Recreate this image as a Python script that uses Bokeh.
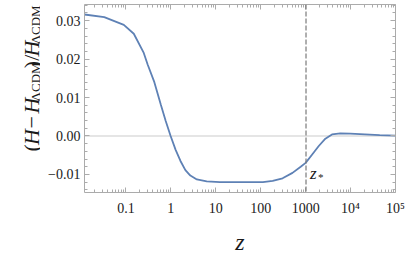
import math
from bokeh.plotting import figure
from bokeh.layouts import row
from bokeh.models import FixedTicker, LogAxis, LinearAxis, Span, Label, Range1d
from bokeh.core.properties import value
from bokeh.embed import file_html
from bokeh.resources import INLINE

# ---- data ----
Z = [0.012, 0.033, 0.09, 0.15, 0.25, 0.305, 0.43, 0.6, 0.77, 0.99, 1.28, 1.64,
     2.11, 2.72, 3.8, 6.3, 12.4, 30, 112, 185, 307, 510, 777, 1000, 1400, 1960,
     2750, 3860, 5900, 9800, 20800, 44500, 100000]
DELTA = [0.0316, 0.0309, 0.0289, 0.0266, 0.0216, 0.0186, 0.0140, 0.0081, 0.0039,
         0.0, -0.0036, -0.0065, -0.0089, -0.0103, -0.0113, -0.0118, -0.0120,
         -0.0120, -0.0120, -0.0117, -0.0110, -0.0096, -0.0080, -0.0070, -0.0048,
         -0.0026, -0.0007, 0.0004, 0.0007, 0.0006, 0.0004, 0.0002, 0.0001]
Z_STAR = 1020

X_TICKS = [0.1, 1, 10, 100, 1000, 10000, 100000]
X_TICK_LABELS = ["0.1", "1", "10", "100", "1000", "10\u2074", "10\u2075"]
Y_TICKS = [-0.01, 0.0, 0.01, 0.02, 0.03]
Y_TICK_LABELS = ["\u22120.01", "0.00", "0.01", "0.02", "0.03"]

# y-axis title, split into pieces so that italics / subscripts can be shown
YT_TEXT = ["(", "H", "\u2212", "H", "\u039bCDM", ")/", "H", "\u039bCDM"]

FONT = "Liberation Serif"
FRAME = "#ababab"
TXT = "#1a1a1a"
BLUE = "#5e81b5"

X_MIN, X_MAX = 0.012, 1e5
Y_MIN, Y_MAX = -0.0147, 0.0342
H = 257
LW = 40            # width of the strip holding the y title
MW = 405 - LW      # main figure width
FL, FR, FT, FB = 44, 355, 4, 195   # main frame edges (main canvas pixels)

x_minor = [m * 10.0 ** k for k in range(-2, 5) for m in range(2, 10)]
y_minor = [round(-0.014 + 0.002 * i, 3) for i in range(25)]

p = figure(width=MW, height=H, x_axis_type="log",
           x_range=Range1d(X_MIN, X_MAX), y_range=Range1d(Y_MIN, Y_MAX),
           output_backend="svg", toolbar_location=None,
           min_border_left=FL, min_border_right=MW - FR, min_border_top=FT,
           min_border_bottom=H - FB)
p.outline_line_color = None
p.xgrid.visible = False
p.ygrid.visible = False
p.background_fill_color = "white"
p.border_fill_color = "white"


def style_axis(ax, show_labels):
    ax.axis_line_color = FRAME
    ax.axis_line_width = 1
    ax.major_tick_line_color = FRAME
    ax.minor_tick_line_color = FRAME
    ax.major_tick_in = 5
    ax.major_tick_out = 0
    ax.minor_tick_in = 3
    ax.minor_tick_out = 0
    ax.major_label_text_font = FONT
    ax.major_label_text_color = TXT
    if show_labels:
        ax.major_label_text_font_size = "14px"
    else:
        ax.major_label_text_font_size = "1px"
        ax.major_label_text_alpha = 0
        ax.major_label_standoff = 0


xa = p.xaxis[0]
xa.ticker = FixedTicker(ticks=X_TICKS, minor_ticks=x_minor)
xa.major_label_overrides = {float(t): l for t, l in zip(X_TICKS, X_TICK_LABELS)}
style_axis(xa, True)
xa.major_label_standoff = 8
xa.axis_label = "z"
xa.axis_label_text_font = FONT
xa.axis_label_text_font_style = "italic"
xa.axis_label_text_font_size = "24px"
xa.axis_label_text_color = TXT
xa.axis_label_standoff = 10

ya = p.yaxis[0]
ya.ticker = FixedTicker(ticks=Y_TICKS, minor_ticks=y_minor)
ya.major_label_overrides = {float(t): l for t, l in zip(Y_TICKS, Y_TICK_LABELS)}
style_axis(ya, True)
ya.major_label_standoff = 4

top = LogAxis(ticker=FixedTicker(ticks=X_TICKS, minor_ticks=x_minor))
style_axis(top, False)
p.add_layout(top, "above")
right = LinearAxis(ticker=FixedTicker(ticks=Y_TICKS, minor_ticks=y_minor))
style_axis(right, False)
p.add_layout(right, "right")

p.add_layout(Span(location=0, dimension="width", line_color="#dcdcdc",
                  line_width=1.5, level="underlay"))
p.add_layout(Span(location=Z_STAR, dimension="height", line_color="#7a7a7a",
                  line_width=1.2, line_dash="5 2"))

p.line(Z, DELTA, line_color=BLUE, line_width=1.8)

# z_* marker label
p.add_layout(Label(x=Z_STAR, y=-0.0098, x_offset=4, text="z", text_font=FONT,
                   text_font_style="italic", text_font_size="17px",
                   text_color=TXT, text_baseline="alphabetic"))
p.add_layout(Label(x=Z_STAR, y=-0.0106, x_offset=12, text="*", text_font=FONT,
                   text_font_size="11px", text_color=TXT,
                   text_baseline="alphabetic"))

# ---- strip with the rotated y-axis title ----
q = figure(width=LW, height=H, x_range=Range1d(0, LW), y_range=Range1d(0, H),
           output_backend="svg", toolbar_location=None,
           x_axis_location=None, y_axis_location=None,
           min_border=0, min_border_left=0, min_border_right=0,
           min_border_top=0, min_border_bottom=0)
q.outline_line_color = None
q.xgrid.visible = False
q.ygrid.visible = False
q.background_fill_color = "white"
q.border_fill_color = "white"

R = math.pi / 2
# (piece index, italic, size, baseline x, start y from top, align)
layout_pieces = [(0, False, 22, 31, 201, "left"),
                 (1, True, 22, 31, 192, "left"),
                 (2, False, 22, 31, 161, "center"),
                 (3, True, 22, 31, 149, "left"),
                 (4, False, 13, 34.5, 132.5, "left"),
                 (5, False, 22, 31, 87, "left"),
                 (6, True, 22, 31, 71, "left"),
                 (7, False, 13, 34.5, 54.5, "left")]
for i, it, sz, bx, sy, al in layout_pieces:
    q.text(x=[bx], y=[H - sy], text=[YT_TEXT[i]], angle=R,
           text_font=value(FONT), text_font_size=value(f"{sz}px"),
           text_font_style="italic" if it else "normal",
           text_align=al, text_baseline="alphabetic", text_color=TXT)

layout = row(q, p, spacing=0)
open("out.html", "w").write(file_html(layout, INLINE))
